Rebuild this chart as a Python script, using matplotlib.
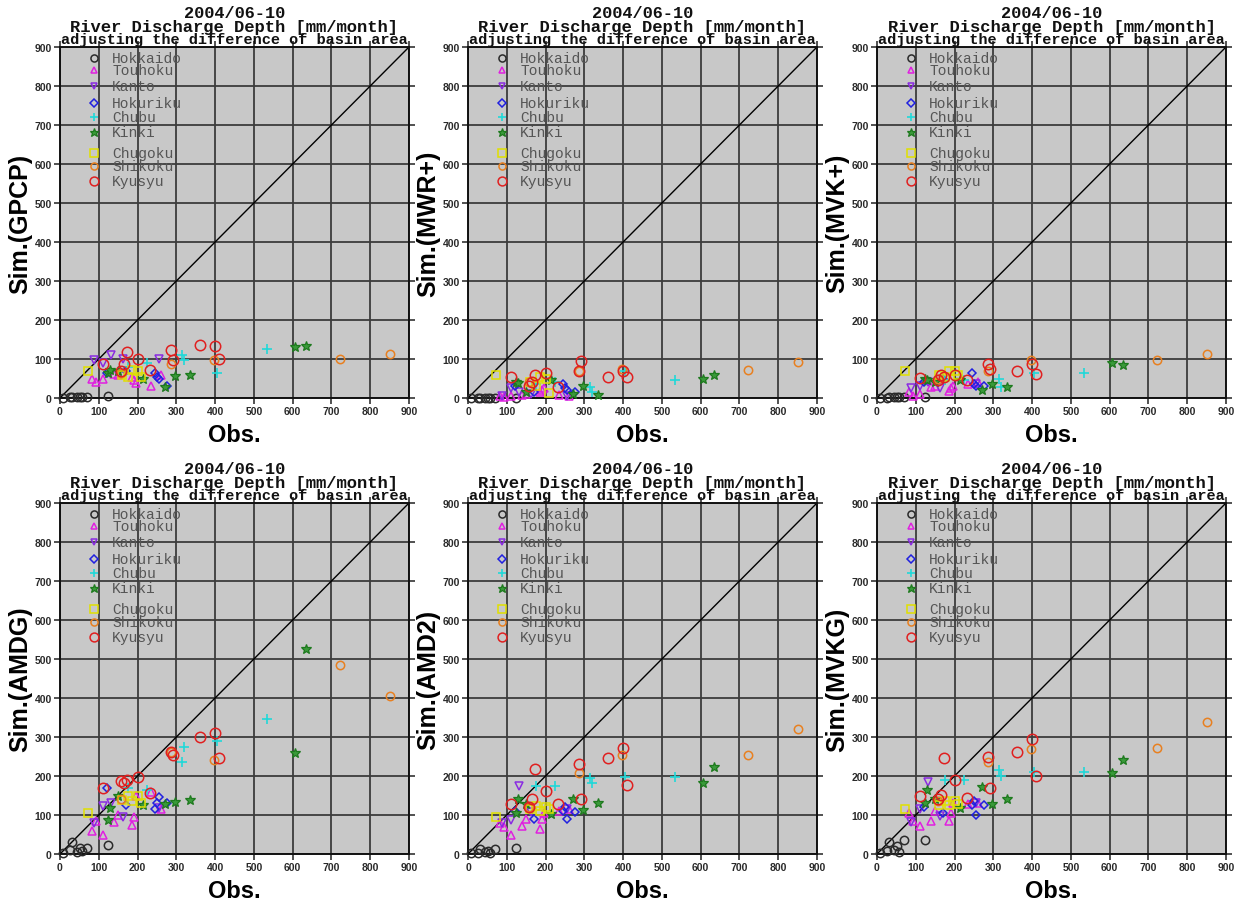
import matplotlib
matplotlib.use("Agg")
import matplotlib.pyplot as plt
from matplotlib.transforms import offset_copy

# ---- panels -------------------------------------------------------------
products = ["GPCP", "MWR+", "MVK+", "AMDG", "AMD2", "MVKG"]
period = "2004/06-10"
title_line2 = "River Discharge Depth [mm/month]"
title_line3 = "adjusting the difference of basin area"
tick_values = [0, 100, 200, 300, 400, 500, 600, 700, 800, 900]

# ---- observed discharge depth per region (mm/month) ----------------------
hokkaido_obs = [8, 25, 32, 45, 52, 58, 70, 125]
touhoku_obs = [82, 92, 110, 140, 150, 185, 190, 195, 235, 260]
kanto_obs = [88, 112, 132, 162, 255]
hokuriku_obs = [120, 170, 245, 250, 255, 275]
chubu_obs = [175, 225, 315, 320, 405, 535]
kinki_obs = [125, 130, 150, 215, 270, 297, 335, 605, 635]
chugoku_obs = [73, 160, 175, 185, 200, 210]
shikoku_obs = [158, 285, 398, 722, 852]
kyusyu_obs = [112, 158, 165, 172, 200, 233, 287, 292, 360, 400, 410]

# ---- simulated discharge depth, one row per product (same order) ---------
hokkaido_sim = [
    [1, 2, 2, 2, 2, 2, 2, 5],
    [1, 1, 1, 1, 1, 1, 1, 1],
    [1, 1, 2, 2, 2, 2, 2, 3],
    [3, 10, 30, 5, 15, 8, 15, 22],
    [2, 3, 12, 5, 8, 3, 12, 15],
    [3, 8, 32, 10, 20, 5, 37, 37],
]
touhoku_sim = [
    [50, 42, 48, 62, 60, 55, 45, 38, 30, 60],
    [5, 3, 5, 8, 10, 15, 20, 25, 8, 5],
    [15, 5, 10, 28, 30, 18, 25, 30, 35, 40],
    [60, 85, 48, 83, 100, 75, 95, 150, 160, 115],
    [80, 70, 50, 72, 90, 65, 90, 105, 110, 115],
    [105, 85, 72, 85, 110, 85, 105, 130, 128, 130],
]
kanto_sim = [
    [97, 90, 110, 100, 100],
    [5, 25, 15, 10, 5],
    [25, 30, 40, 25, 35],
    [80, 122, 130, 95, 118],
    [80, 88, 175, 108, 115],
    [82, 115, 185, 98, 130],
]
hokuriku_sim = [
    [65, 70, 65, 55, 48, 30],
    [30, 15, 35, 25, 20, 15],
    [40, 50, 63, 35, 30, 30],
    [170, 125, 115, 130, 145, 130],
    [110, 90, 110, 120, 90, 108],
    [120, 105, 125, 135, 100, 125],
]
chubu_sim = [
    [80, 90, 110, 97, 65, 125],
    [35, 40, 28, 15, 70, 47],
    [45, 45, 48, 28, 65, 63],
    [170, 165, 235, 275, 290, 345],
    [175, 175, 195, 183, 197, 197],
    [190, 190, 215, 200, 210, 210],
]
kinki_sim = [
    [65, 72, 70, 48, 28, 57, 58, 130, 133],
    [40, 38, 15, 45, 10, 32, 8, 50, 58],
    [48, 45, 40, 45, 20, 37, 28, 90, 85],
    [88, 118, 150, 125, 128, 133, 138, 260, 525],
    [105, 140, 128, 103, 142, 112, 130, 183, 222],
    [130, 165, 140, 118, 172, 128, 140, 208, 242],
]
chugoku_sim = [
    [68, 60, 55, 72, 70, 55],
    [60, 40, 30, 55, 50, 12],
    [68, 58, 55, 68, 68, 60],
    [105, 138, 150, 135, 148, 132],
    [95, 115, 122, 110, 120, 115],
    [115, 125, 135, 125, 135, 128],
]
shikoku_sim = [
    [65, 88, 97, 100, 112],
    [40, 70, 75, 72, 93],
    [50, 68, 97, 98, 112],
    [140, 262, 240, 485, 405],
    [120, 208, 255, 255, 320],
    [135, 235, 270, 272, 338],
]
kyusyu_sim = [
    [88, 70, 88, 117, 100, 73, 123, 97, 135, 133, 100],
    [53, 30, 42, 58, 65, 28, 68, 95, 53, 70, 53],
    [52, 45, 60, 55, 58, 45, 87, 75, 68, 88, 62],
    [170, 188, 183, 190, 198, 157, 262, 253, 300, 310, 245],
    [128, 120, 140, 218, 162, 128, 232, 142, 245, 272, 177],
    [150, 140, 152, 245, 190, 143, 250, 168, 262, 295, 200],
]

# ---- region styles --------------------------------------------------------
regions = [
    ("Hokkaido", hokkaido_obs, hokkaido_sim, "o", "#2a2a2a", 6.0, 0.969),
    ("Touhoku", touhoku_obs, touhoku_sim, "^", "#e020e0", 5.5, 0.934),
    ("Kanto", kanto_obs, kanto_sim, "v", "#8a2be2", 5.5, 0.889),
    ("Hokuriku", hokuriku_obs, hokuriku_sim, "D", "#2020e0", 4.5, 0.840),
    ("Chubu", chubu_obs, chubu_sim, "+", "#20d8d8", 6.5, 0.801),
    ("Kinki", kinki_obs, kinki_sim, "*", "#1e7a1e", 7.5, 0.758),
    ("Chugoku", chugoku_obs, chugoku_sim, "s", "#e0e000", 6.0, 0.698),
    ("Shikoku", shikoku_obs, shikoku_sim, "o", "#e88020", 6.0, 0.661),
    ("Kyusyu", kyusyu_obs, kyusyu_sim, "o", "#e02020", 7.5, 0.618),
]

DPI = 100
fig = plt.figure(figsize=(12.44, 9.03), dpi=DPI)

col_left = [60, 468, 877]
row_top = [48, 504]
ax_w, ax_h = 349, 351
W, H = 1244, 903

mono = ["Liberation Mono", "DejaVu Sans Mono"]
sans = ["Liberation Sans", "DejaVu Sans"]

for i, prod in enumerate(products):
    r, c = divmod(i, 3)
    left = col_left[c] / W
    bottom = (H - row_top[r] - ax_h) / H
    ax = fig.add_axes([left, bottom, ax_w / W, ax_h / H])
    ax.set_facecolor("#c8c8c8")
    ax.set_xlim(0, 900)
    ax.set_ylim(0, 900)
    ax.set_xticks(tick_values)
    ax.set_yticks(tick_values)
    ax.grid(True, color="#3c3c3c", linewidth=1.3)
    ax.set_axisbelow(True)
    ax.tick_params(direction="out", length=4, width=1.2, color="#333333",
                   top=True, right=True, labelsize=7.5, pad=2,
                   labelcolor="#2a2a2a")
    for lab in ax.get_xticklabels() + ax.get_yticklabels():
        lab.set_family(sans)
        lab.set_weight("bold")
    for sp in ax.spines.values():
        sp.set_linewidth(1.4)
        sp.set_color("#111111")

    ax.plot([0, 900], [0, 900], color="black", linewidth=1.0, zorder=2)

    for name, obs, sim, mk, col, ms, ly in regions:
        if mk == "+":
            kw = dict(color=col, markeredgewidth=1.2)
        elif mk == "*":
            kw = dict(markerfacecolor="#3a9a3a", markeredgecolor=col,
                      markeredgewidth=0.9)
        else:
            kw = dict(markerfacecolor="none", markeredgecolor=col,
                      markeredgewidth=1.1)
        ax.plot(obs, sim[i], linestyle="none", marker=mk, markersize=ms,
                zorder=3, clip_on=False, **kw)
        # region key inside the panel
        ax.plot([0.097], [ly], transform=ax.transAxes, linestyle="none",
                marker=mk, markersize=ms * 0.85, zorder=4, **kw)
        ax.text(0.149, ly, name, transform=ax.transAxes, va="center",
                ha="left", family=mono, fontsize=10.5, color="#555555",
                zorder=4)

    ax.set_xlabel("Obs.", family=sans, fontsize=17, weight="bold")
    ax.set_ylabel(f"Sim.({prod})", family=sans, fontsize=18, weight="bold")
    ax.xaxis.set_label_coords(0.5, -0.072)
    ax.yaxis.set_label_coords(-0.078, 0.5)

    for text, dy, fs in [(period, 34, 12.2), (title_line2, 20.5, 12.3),
                         (title_line3, 8, 11)]:
        tr = offset_copy(ax.transAxes, fig=fig, x=0, y=dy, units="dots")
        ax.text(0.5, 1.0, text, transform=tr, ha="center", va="center",
                family=mono, fontsize=fs, weight="bold", color="#111111")

fig.savefig("out.png", dpi=DPI)
